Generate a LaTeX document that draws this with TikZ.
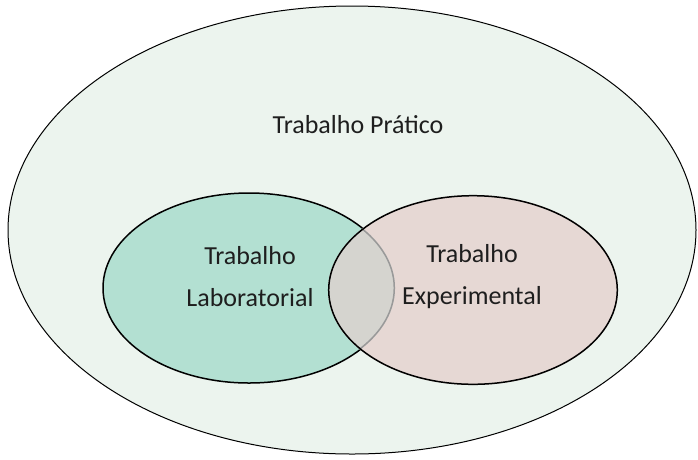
\documentclass[tikz,border=0pt]{standalone}
\usepackage{fontspec}
\setmainfont{Carlito}
\usetikzlibrary{shapes}
\definecolor{pratico}{HTML}{ECF4EE}
\definecolor{labor}{HTML}{B3E0D2}
\definecolor{experim}{HTML}{E6D8D4}
\definecolor{inter}{HTML}{D5D4CF}
\definecolor{texto}{HTML}{1E1E1E}
\begin{document}
\begin{tikzpicture}[x=1pt,y=-1pt,font=\fontsize{26}{42}\selectfont,text=texto]
\useasboundingbox (0,0) rectangle (698,459);
\node[draw,ellipse,fill=pratico,line width=1pt,minimum width=688pt,minimum height=448pt,inner sep=0pt] (TP)at(352,230){};
\node[draw,ellipse,fill=labor,line width=1.5pt,minimum width=292pt,minimum height=190pt,inner sep=0pt] (TL)at(249,288){};
\node[ellipse,fill=experim,minimum width=290pt,minimum height=190pt,inner sep=0pt] (TE)at(473,290){};
\begin{scope}
\clip (473,290) ellipse [x radius=145pt,y radius=95pt];
\fill[inter] (249,288) ellipse [x radius=146pt,y radius=95pt];
\draw[gray!80,line width=1.5pt] (249,288) ellipse [x radius=145.3pt,y radius=94.3pt];
\end{scope}
\draw[line width=1.5pt] (TE.center) ellipse [x radius=144.3pt,y radius=94.3pt];
\node (tp)at(358,125){Trabalho Prático};
\node[align=center] (lab)at(250,277){Trabalho\\Laboratorial};
\node[align=center] (exp)at(472,277){Trabalho\\Experimental};
\end{tikzpicture}
\end{document}
